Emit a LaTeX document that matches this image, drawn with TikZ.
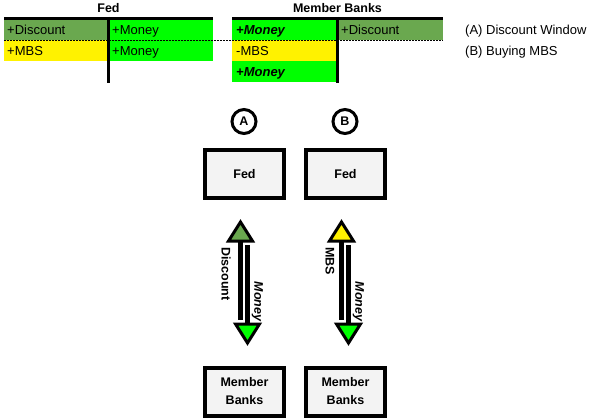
\documentclass[tikz,border=0pt]{standalone}
\usepackage{fontspec}
\setmainfont{Liberation Sans}
\usepackage{amsmath}

\definecolor{dkgreen}{HTML}{6AA84F}
\definecolor{ltgreen}{HTML}{00FF00}
\definecolor{ltgray}{HTML}{F3F3F3}

\tikzset{
  cell/.style={anchor=base west, inner sep=0pt, font=\fontsize{13}{15}\selectfont},
  heading/.style={anchor=base, inner sep=0pt, font=\bfseries\fontsize{12.5}{15}\selectfont},
  bank/.style={draw, line width=4pt, fill=ltgray, minimum width=79pt, minimum height=48pt,
    align=center, font=\bfseries\fontsize{12.5}{18}\selectfont},
  tag/.style={circle, draw, line width=3pt, minimum size=24pt, inner sep=0pt,
    font=\bfseries\fontsize{12.5}{15}\selectfont},
  flowlabel/.style={rotate=-90, inner sep=0pt, font=\bfseries\fontsize{12.5}{15}\selectfont},
  shaft/.style={line width=4.5pt},
  head/.style={draw, line width=3pt, line join=miter}
}

\begin{document}
\begin{tikzpicture}[x=1pt,y=-1pt]

\useasboundingbox (0,0) rectangle (590,420);

% T-accounts
\fill[dkgreen] (4,19) rectangle (108,40);
\fill[yellow] (4,40) rectangle (108,61);
\fill[ltgreen] (108,19) rectangle (213,61);

\fill[ltgreen] (232,19) rectangle (337,40);
\fill[yellow] (232,40) rectangle (337,61);
\fill[ltgreen] (232,61) rectangle (337,82);
\fill[dkgreen] (337,19) rectangle (443,40);

\draw[dash pattern=on 1.5pt off 1.5pt] (4,40) -- (443,40);
\draw[line width=3pt] (4,18.5) -- (213,18.5);
\draw[line width=3pt] (108.5,17) -- (108.5,83);
\draw[line width=3pt] (232,18.5) -- (443,18.5);
\draw[line width=3pt] (337.5,17) -- (337.5,83);

\node[heading] (fedhead) at (108.5,12.5) {Fed};
\node[heading] (mbhead) at (337.5,12.5) {Member Banks};

\node[cell] (feddisc) at (7,35) {+Discount};
\node[cell] (fedmbs) at (7,56) {+MBS};
\node[cell] (fedmoney) at (112,35) {+Money};
\node[cell] (fedmoneyb) at (112,56) {+Money};

\node[cell] (mbmoney) at (236,35) {\textbf{\textit{+Money}}};
\node[cell] (mbmbs) at (236,56) {-MBS};
\node[cell] (mbmoneyb) at (236,77) {\textbf{\textit{+Money}}};
\node[cell] (mbdisc) at (341,35) {+Discount};

\node[cell] (legA) at (465,35) {(A) Discount Window};
\node[cell] (legB) at (465,56) {(B) Buying MBS};

% flows
\foreach \n/\cx/\upcol/\uptext/\lx in {A/244.5/dkgreen/Discount/226, B/345.5/yellow/MBS/330}
{
  \node[tag] (tag\n) at (\cx-0.5,121.5) {\n};
  \node[bank] (fed\n) at (\cx,174) {Fed};
  \node[bank] (mb\n) at (\cx,391.5) {Member\\Banks};

  \coordinate (tip\n) at (\cx-4,222);
  \coordinate (foot\n) at (\cx-4,320);
  \coordinate (root\n) at (\cx+3,245);
  \coordinate (sink\n) at (\cx+3,343);

  \draw[shaft] ([yshift=-19pt]tip\n) -- (foot\n);
  \draw[head, fill=\upcol] (tip\n) -- ++(-12,19) -- ++(24,0) -- cycle;
  \draw[shaft] (root\n) -- ([yshift=19pt]sink\n);
  \draw[head, fill=ltgreen] (sink\n) -- ++(-12,-19) -- ++(24,0) -- cycle;

  \node[flowlabel, anchor=west] (up\n) at (\lx,247) {\uptext};
  \node[flowlabel, anchor=east] (down\n) at (\cx+13,322) {\textit{Money}};
}

\end{tikzpicture}
\end{document}
